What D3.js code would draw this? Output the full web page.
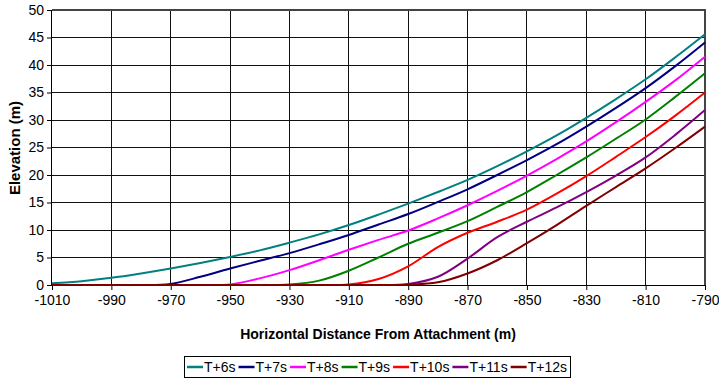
<!DOCTYPE html>
<html lang="en">
    <head>
        <meta charset="utf-8">
        <style>
        body { margin: 0; background: white; }
        text { font-family: Arial, "Liberation Sans", sans-serif; }
        </style>
        <script src="https://d3js.org/d3.v7.min.js"></script>
    </head>
    <body>
    <script>
    var width = 719,
        height = 381;

    // x positions every 10 m
    var distance = d3.range(-1010, -789, 10);

    var seriesNames = ["T+6s", "T+7s", "T+8s", "T+9s", "T+10s", "T+11s", "T+12s"];
    var seriesColors = ["#008080", "#000080", "#ff00ff", "#008000", "#ff0000", "#800080", "#800000"];

    var t6 = [0.3, 0.7, 1.3, 2.1, 3.0, 4.0, 5.1, 6.3, 7.7, 9.2, 10.9, 12.8, 14.8, 16.9, 19.1, 21.6, 24.3, 27.2, 30.4, 33.8, 37.4, 41.4, 45.6];
    var t7 = [0, 0, 0, 0, 0.2, 1.5, 3.0, 4.4, 5.8, 7.4, 9.1, 11.0, 12.9, 15.1, 17.4, 20.0, 22.7, 25.6, 28.8, 32.2, 35.8, 39.8, 44.1];
    var t8 = [0, 0, 0, 0, 0, 0, 0.1, 1.2, 2.7, 4.5, 6.4, 8.2, 9.9, 12.1, 14.5, 17.1, 19.9, 22.9, 26.1, 29.6, 33.3, 37.2, 41.5];
    var t9 = [0, 0, 0, 0, 0, 0, 0, 0, 0.1, 0.8, 2.6, 5.0, 7.5, 9.5, 11.6, 14.2, 16.9, 20.0, 23.2, 26.6, 30.1, 34.2, 38.5];
    var t10 = [0, 0, 0, 0, 0, 0, 0, 0, 0, 0, 0.1, 1.1, 3.4, 6.9, 9.5, 11.5, 13.7, 16.6, 19.8, 23.3, 26.9, 30.8, 35.0];
    var t11 = [0, 0, 0, 0, 0, 0, 0, 0, 0, 0, 0, 0, 0.2, 1.5, 4.8, 8.7, 11.5, 14.1, 16.9, 19.9, 23.2, 27.3, 31.8];
    var t12 = [0, 0, 0, 0, 0, 0, 0, 0, 0, 0, 0, 0, 0.05, 0.5, 2.1, 4.5, 7.6, 10.9, 14.4, 17.8, 21.2, 24.9, 28.8];

    var allSeries = [t6, t7, t8, t9, t10, t11, t12];

    var xTicks = d3.range(-1010, -789, 20);
    var yTicks = d3.range(0, 51, 5);

    var x = d3.scaleLinear()
        .domain([-1010, -790])
        .range([52, 705]);

    var y = d3.scaleLinear()
        .domain([0, 50])
        .range([285, 10]);

    var svg = d3.select("body").append("svg")
        .attr("width", width)
        .attr("height", height);

    // grid
    var grid = svg.append("g").attr("shape-rendering", "crispEdges");
    grid.selectAll(".hgrid")
        .data(yTicks.slice(1, -1))
        .enter().append("line")
        .attr("x1", x.range()[0]).attr("x2", x.range()[1])
        .attr("y1", d => y(d)).attr("y2", d => y(d))
        .attr("stroke", "#111");
    grid.selectAll(".vgrid")
        .data(xTicks.slice(1, -1))
        .enter().append("line")
        .attr("y1", y.range()[0]).attr("y2", y.range()[1])
        .attr("x1", d => x(d)).attr("x2", d => x(d))
        .attr("stroke", "#111");

    // top + right frame
    svg.append("path")
        .attr("d", "M" + x.range()[0] + "," + y(50) + "H" + x.range()[1] + "V" + y(0))
        .attr("fill", "none")
        .attr("stroke", "#444")
        .attr("stroke-width", 2);

    var xAxis = svg.append("g")
        .attr("transform", "translate(0," + y(0) + ")")
        .call(d3.axisBottom(x).tickValues(xTicks).tickSize(5).tickPadding(5).tickFormat(d3.format("d")));
    var yAxis = svg.append("g")
        .attr("transform", "translate(" + x.range()[0] + ",0)")
        .call(d3.axisLeft(y).tickValues(yTicks).tickSize(5).tickPadding(3));

    [xAxis, yAxis].forEach(function(a) {
        a.selectAll(".tick line").attr("stroke", "#000");
        a.selectAll(".tick text")
            .attr("fill", "#000")
            .style("font-family", "Arial, 'Liberation Sans', sans-serif")
            .style("font-size", "14px");
    });
    xAxis.select(".domain").attr("stroke", "#000").attr("d", "M" + x.range()[0] + ",0.5H" + x.range()[1]);
    yAxis.select(".domain").attr("stroke", "#000").attr("d", "M-0.5," + y.range()[0] + "V" + y.range()[1]);
    xAxis.selectAll(".tick text").text(d => d3.format("d")(d).replace("\u2212", "-"));

    // curves
    var line = d3.line()
        .x((d, i) => x(distance[i]))
        .y(d => y(d))
        .curve(d3.curveCatmullRom.alpha(0.5));

    svg.append("g").selectAll("path")
        .data(allSeries)
        .enter().append("path")
        .attr("d", line)
        .attr("fill", "none")
        .attr("stroke", (d, i) => seriesColors[i])
        .attr("stroke-width", 2);

    // titles
    svg.append("text")
        .attr("x", 378)
        .attr("y", 339)
        .attr("text-anchor", "middle")
        .attr("font-weight", "bold")
        .style("font-size", "14px")
        .text("Horizontal Distance From Attachment (m)");

    svg.append("text")
        .attr("transform", "translate(20,148) rotate(-90)")
        .attr("text-anchor", "middle")
        .attr("font-weight", "bold")
        .style("font-size", "15px")
        .text("Elevation (m)");

    // legend
    var legend = svg.append("g");
    var lineLen = 16, pad = 3, cx = 377;
    var items = legend.selectAll("g")
        .data(seriesNames)
        .enter().append("g");
    items.append("line")
        .attr("x1", 0).attr("x2", lineLen)
        .attr("y1", 0).attr("y2", 0)
        .attr("stroke", (d, i) => seriesColors[i])
        .attr("stroke-width", 2.5);
    items.append("text")
        .attr("x", lineLen + 1)
        .attr("y", 5)
        .style("font-size", "14px")
        .text(d => d);

    var offs = 0, pos = [];
    items.each(function() {
        pos.push(offs);
        offs += lineLen + 1 + d3.select(this).select("text").node().getComputedTextLength() + 3;
    });
    var total = offs - 3 + 2 * pad;
    var left = cx - total / 2;
    items.attr("transform", (d, i) => "translate(" + (left + pad + pos[i]) + ",367)");
    legend.insert("rect", ":first-child")
        .attr("x", Math.round(left) + 0.5)
        .attr("y", 356.5)
        .attr("width", Math.round(total))
        .attr("height", 21)
        .attr("fill", "white")
        .attr("stroke", "#000");
    </script>
    </body>
</html>
